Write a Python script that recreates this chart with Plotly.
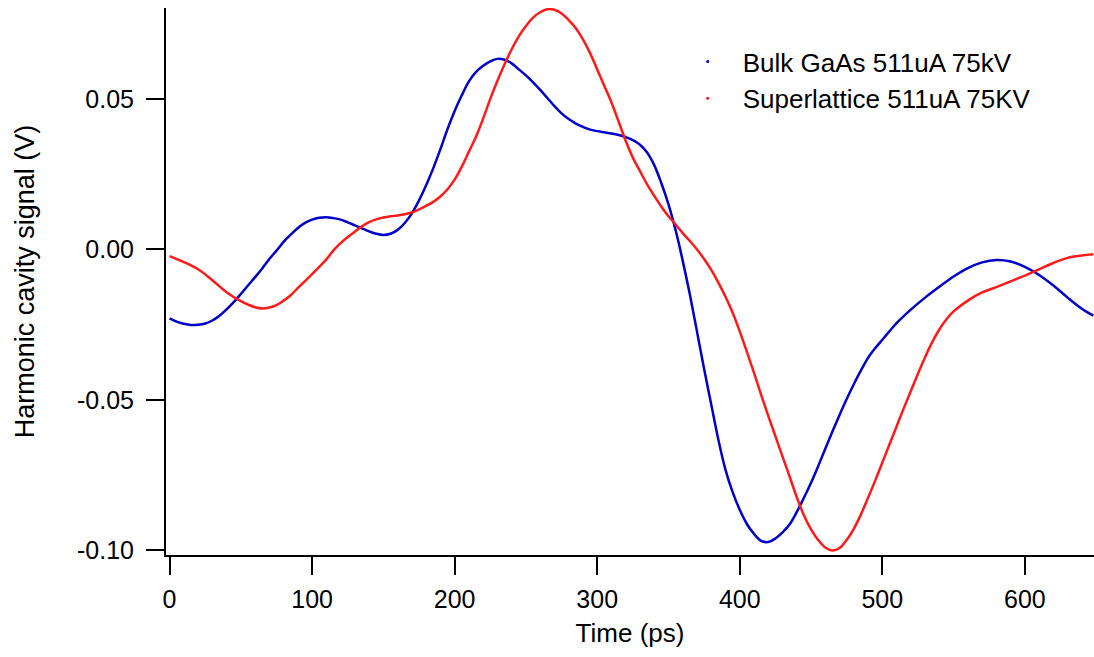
import plotly.graph_objects as go

# Bulk GaAs 511uA 75kV
bulk_t = [0, 5, 10, 15, 20, 25, 30, 35, 40, 45, 50, 55, 60, 65, 70, 75, 80, 85, 90, 95,
          100, 105, 110, 115, 120, 125, 130, 135, 140, 145, 150, 155, 160, 165, 170, 175,
          180, 185, 190, 195, 200, 205, 210, 215, 220, 225, 230, 235, 240, 245, 250, 255,
          260, 265, 270, 275, 280, 285, 290, 295, 300, 305, 310, 315, 320, 325, 330, 335,
          340, 345, 350, 355, 360, 365, 370, 375, 380, 385, 390, 395, 400, 405, 410, 415,
          420, 425, 430, 435, 440, 445, 450, 455, 460, 465, 470, 475, 480, 485, 490, 495,
          500, 505, 510, 520, 530, 540, 550, 560, 570, 580, 590, 600, 610, 620, 630, 640, 648]
bulk_v = [-0.0229, -0.0240, -0.0247, -0.0251, -0.0250, -0.0246, -0.0236, -0.0220, -0.0199, -0.0175,
          -0.0148, -0.0120, -0.0092, -0.0063, -0.0032, -0.0004, 0.0025, 0.0049, 0.0071, 0.0088,
          0.0099, 0.0105, 0.0107, 0.0104, 0.0099, 0.0090, 0.0080, 0.0070, 0.0060, 0.0052,
          0.0048, 0.0052, 0.0065, 0.0088, 0.0120, 0.0163, 0.0213, 0.0270, 0.0333, 0.0400,
          0.0460, 0.0512, 0.0558, 0.0590, 0.0610, 0.0625, 0.0633, 0.0630, 0.0618, 0.0598,
          0.0578, 0.0555, 0.0530, 0.0503, 0.0476, 0.0452, 0.0433, 0.0418, 0.0407, 0.0398,
          0.0393, 0.0389, 0.0385, 0.0380, 0.0373, 0.0363, 0.0348, 0.0322, 0.0280, 0.0220,
          0.0150, 0.0064, -0.0038, -0.0150, -0.0273, -0.0397, -0.0515, -0.0632, -0.0732, -0.0806,
          -0.0865, -0.0912, -0.0945, -0.0968, -0.0972, -0.0960, -0.0940, -0.0913, -0.0872, -0.0825,
          -0.0775, -0.0720, -0.0662, -0.0605, -0.0550, -0.0497, -0.0448, -0.0402, -0.0360, -0.0328,
          -0.0300, -0.0272, -0.0245, -0.0200, -0.0160, -0.0124, -0.0090, -0.0062, -0.0043, -0.0035,
          -0.0040, -0.0058, -0.0085, -0.0120, -0.0160, -0.0197, -0.0220]

# Superlattice 511uA 75KV
sl_t = [0, 10, 20, 30, 40, 50, 55, 60, 65, 70, 75, 80, 85, 90, 95, 100, 105, 110, 115, 120,
        125, 130, 135, 140, 145, 150, 155, 160, 165, 170, 175, 180, 185, 190, 195, 200, 205,
        210, 215, 220, 225, 230, 235, 240, 245, 250, 255, 260, 265, 270, 275, 280, 285, 290,
        295, 300, 305, 310, 315, 320, 325, 330, 335, 340, 345, 350, 355, 360, 365, 370, 375,
        380, 385, 390, 395, 400, 405, 410, 415, 420, 425, 430, 435, 440, 445, 450, 455, 460,
        465, 470, 475, 480, 485, 490, 495, 500, 505, 510, 515, 520, 525, 530, 535, 540, 545,
        550, 560, 570, 580, 590, 600, 610, 620, 630, 640, 648]
sl_v = [-0.0022, -0.0042, -0.0066, -0.0102, -0.0142, -0.0172, -0.0183, -0.0192, -0.0196, -0.0193,
        -0.0185, -0.0170, -0.0152, -0.0128, -0.0105, -0.0082, -0.0058, -0.0033, -0.0003, 0.0021,
        0.0041, 0.0059, 0.0077, 0.0091, 0.0100, 0.0106, 0.0110, 0.0113, 0.0117, 0.0123,
        0.0133, 0.0145, 0.0158, 0.0176, 0.0200, 0.0232, 0.0275, 0.0325, 0.0375, 0.0435,
        0.0500, 0.0560, 0.0615, 0.0665, 0.0708, 0.0742, 0.0770, 0.0788, 0.0798, 0.0796,
        0.0784, 0.0762, 0.0735, 0.0698, 0.0652, 0.0598, 0.0543, 0.0488, 0.0425, 0.0360,
        0.0305, 0.0260, 0.0216, 0.0178, 0.0142, 0.0110, 0.0083, 0.0054, 0.0028, 0.0000,
        -0.0032, -0.0068, -0.0110, -0.0157, -0.0210, -0.0272, -0.0340, -0.0410, -0.0483, -0.0553,
        -0.0620, -0.0688, -0.0755, -0.0823, -0.0883, -0.0930, -0.0965, -0.0990, -0.1000, -0.0992,
        -0.0965, -0.0928, -0.0880, -0.0825, -0.0768, -0.0708, -0.0648, -0.0588, -0.0528, -0.0470,
        -0.0413, -0.0358, -0.0308, -0.0266, -0.0232, -0.0206, -0.0170, -0.0143, -0.0125, -0.0106,
        -0.0087, -0.0066, -0.0045, -0.0028, -0.0020, -0.0016]

x_ticks = [0, 100, 200, 300, 400, 500, 600]
y_ticks = [-0.10, -0.05, 0.00, 0.05]
y_tick_text = ["-0.10", "-0.05", "0.00", "0.05"]

BLUE = "#0000c8"
RED = "#ff1a1a"
FONT = "Liberation Sans, Arial, sans-serif"

fig = go.Figure()
fig.add_trace(go.Scatter(x=bulk_t, y=bulk_v, mode="lines", line=dict(color=BLUE, width=2.5, shape="spline"),
                         showlegend=False))
fig.add_trace(go.Scatter(x=sl_t, y=sl_v, mode="lines", line=dict(color=RED, width=2.5, shape="spline"),
                         showlegend=False))
fig.add_trace(go.Scatter(x=[None], y=[None], mode="markers", marker=dict(color=BLUE, size=3),
                         name="Bulk GaAs 511uA 75kV"))
fig.add_trace(go.Scatter(x=[None], y=[None], mode="markers", marker=dict(color=RED, size=3),
                         name="Superlattice 511uA 75KV"))

fig.update_layout(
    width=1094, height=657,
    margin=dict(l=166, r=0, t=8, b=102),
    plot_bgcolor="white", paper_bgcolor="white",
    font=dict(family=FONT, size=25, color="black"),
    legend=dict(x=0.546, y=0.945, xanchor="left", yanchor="top", bgcolor="rgba(0,0,0,0)",
                font=dict(size=26), tracegroupgap=0, itemwidth=60),
    xaxis=dict(range=[-2.5, 648.5], tickvals=x_ticks, showline=True, linecolor="black", linewidth=2,
               ticks="outside", ticklen=18, tickwidth=2, tickcolor="black", showgrid=False,
               zeroline=False, ticklabelstandoff=3,
               title=dict(text="Time (ps)", standoff=12, font=dict(size=26))),
    yaxis=dict(range=[-0.1015, 0.0802], tickvals=y_ticks, ticktext=y_tick_text, showline=True,
               linecolor="black", linewidth=2, ticks="outside", ticklen=18, tickwidth=2,
               tickcolor="black", showgrid=False, zeroline=False, ticklabelstandoff=7,
               title=dict(text="Harmonic cavity signal (V)", standoff=35, font=dict(size=27))),
)

fig.write_html("out.html", post_script="document.body.style.margin='0';",
               config={"displayModeBar": False})
